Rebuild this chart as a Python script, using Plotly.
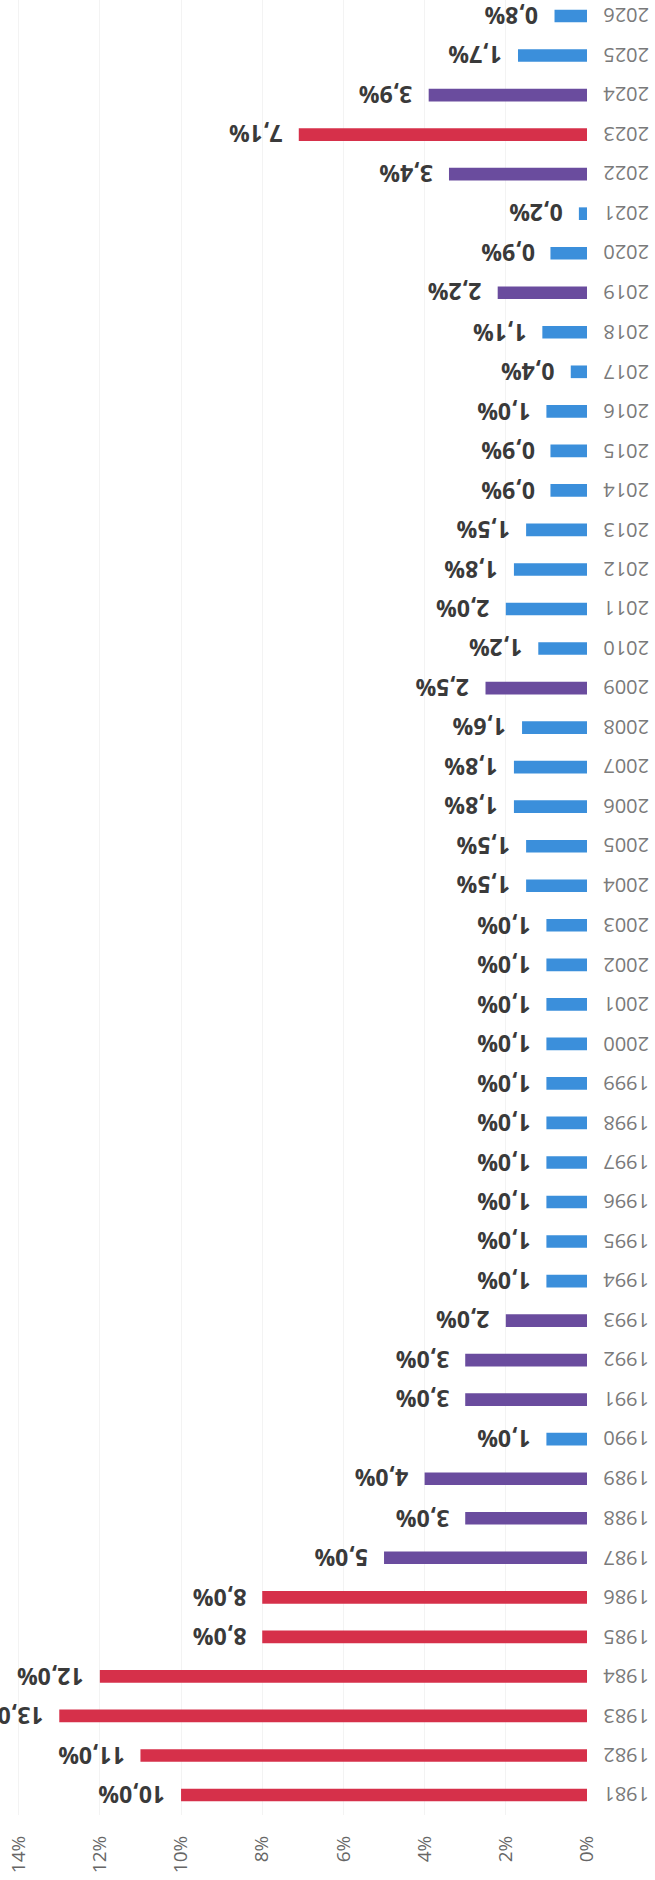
import plotly.graph_objects as go

# Annual inflation rate per year (%), with colour group per bar
years = list(range(1981, 2027))
rates = [10.0, 11.0, 13.0, 12.0, 8.0, 8.0, 5.0, 3.0, 4.0, 1.0,
         3.0, 3.0, 2.0, 1.0, 1.0, 1.0, 1.0, 1.0, 1.0, 1.0,
         1.0, 1.0, 1.0, 1.5, 1.5, 1.8, 1.8, 1.6, 2.5, 1.2,
         2.0, 1.8, 1.5, 0.9, 0.9, 1.0, 0.4, 1.1, 2.2, 0.9,
         0.2, 3.4, 7.1, 3.9, 1.7, 0.8]
groups = ["high"] * 6 + ["mid", "mid", "mid", "low", "mid", "mid", "mid"] + \
         ["low"] * 15 + ["mid"] + ["low"] * 9 + ["mid", "low", "low", "mid", "high", "mid", "low", "low"]
tick_vals = [0, 2, 4, 6, 8, 10, 12, 14]
tick_text = ["0%", "2%", "4%", "6%", "8%", "10%", "12%", "14%"]

palette = {"high": "#D6304A", "mid": "#6A4C9E", "low": "#3B8FDB"}
bar_colors = [palette[g] for g in groups]

fig = go.Figure()
fig.add_trace(go.Bar(
    x=rates, y=years, orientation="h",
    marker=dict(color=bar_colors, line=dict(width=0)),
    width=0.32, hoverinfo="skip",
))

annotations = []
for yr, v in zip(years, rates):
    # value label, upside down, just beyond the bar end
    annotations.append(dict(
        x=v, y=yr, xref="x", yref="y",
        text=f"{v:.1f}".replace(".", ",") + "%",
        showarrow=False, textangle=180,
        xanchor="right", yanchor="middle", xshift=-14,
        font=dict(family="Open Sans", size=23, color="#3a3a3a", weight="bold"),
    ))
    # year label, upside down, right of the zero line
    annotations.append(dict(
        x=1, y=yr, xref="paper", yref="y",
        text=str(yr), showarrow=False, textangle=180,
        xanchor="left", yanchor="middle", xshift=14,
        font=dict(family="Open Sans", size=20, color="#7a7a7a"),
    ))

fig.update_layout(
    width=655, height=1880,
    margin=dict(l=0, r=68, t=0, b=65),
    paper_bgcolor="white", plot_bgcolor="white",
    showlegend=False,
    annotations=annotations,
    xaxis=dict(
        range=[14.46, 0], tickvals=tick_vals, ticktext=tick_text,
        tickangle=-90, side="bottom",
        tickfont=dict(family="Open Sans", size=19, color="#666666"),
        showgrid=True, gridcolor="#f3f3f3", gridwidth=1,
        zeroline=False, showline=False, ticks="", ticklabelstandoff=16,
    ),
    yaxis=dict(
        range=[1980.494, 2026.405], showticklabels=False,
        showgrid=False, zeroline=False, showline=False, ticks="",
    ),
)

fig.write_html("out.html")
